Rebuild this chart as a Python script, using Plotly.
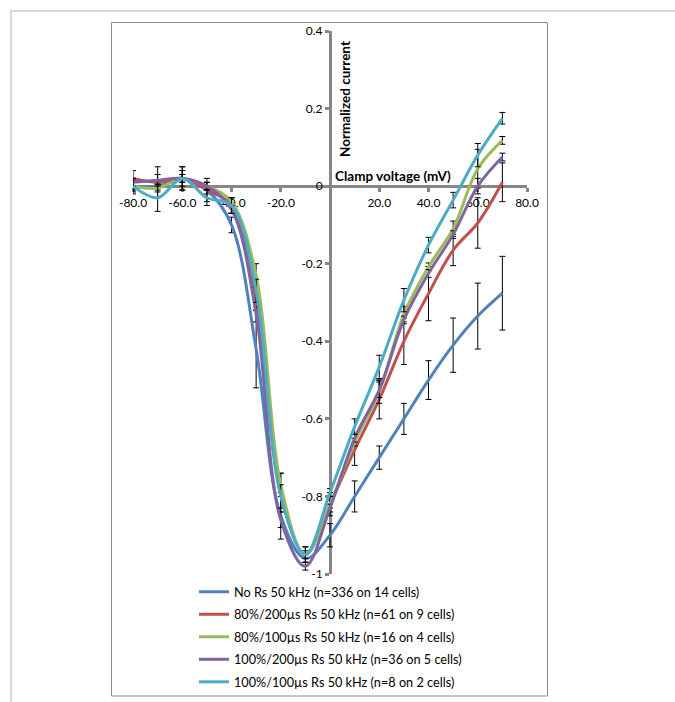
import plotly.graph_objects as go

voltage = [-80, -70, -60, -50, -40, -30, -20, -10, 0, 10, 20, 30, 40, 50, 60, 70]

series_names = [
    "No Rs 50 kHz (n=336 on 14 cells)",
    "80%/200µs Rs 50 kHz (n=61 on 9 cells)",
    "80%/100µs Rs 50 kHz (n=16 on 4 cells)",
    "100%/200µs Rs 50 kHz (n=36 on 5 cells)",
    "100%/100µs Rs 50 kHz (n=8 on 2 cells)",
]

no_rs =        [0.00, 0.00, 0.02, -0.01, -0.10, -0.42, -0.85, -0.96, -0.90, -0.80, -0.70, -0.60, -0.50, -0.41, -0.335, -0.276]
r80_200 =      [0.02, 0.01, 0.02, -0.01, -0.05, -0.29, -0.79, -0.95, -0.82, -0.68, -0.55, -0.40, -0.277, -0.165, -0.095, 0.01]
r80_100 =      [0.00, -0.005, 0.02, 0.00, -0.04, -0.23, -0.77, -0.95, -0.82, -0.66, -0.53, -0.33, -0.208, -0.11, 0.045, 0.118]
r100_200 =     [0.01, 0.015, 0.02, 0.00, -0.06, -0.33, -0.86, -0.98, -0.83, -0.65, -0.525, -0.345, -0.225, -0.125, 0.00, 0.075]
r100_100 =     [0.00, -0.03, 0.02, -0.03, -0.05, -0.27, -0.80, -0.95, -0.79, -0.62, -0.466, -0.294, -0.152, -0.036, 0.08, 0.175]

err_no_rs =    [0.015, 0.01, 0.01, 0.01, 0.02, 0.10, 0.06, 0.01, 0.03, 0.04, 0.03, 0.04, 0.05, 0.07, 0.085, 0.095]
err_r80_200 =  [0.02, 0.04, 0.03, 0.03, 0.02, 0.03, 0.05, 0.02, 0.03, 0.04, 0.05, 0.06, 0.07, 0.04, 0.065, 0.05]
err_r80_100 =  [0.01, 0.01, 0.01, 0.01, 0.01, 0.03, 0.03, 0.01, 0.01, 0.01, 0.03, 0.02, 0.01, 0.02, 0.05, 0.01]
err_r100_200 = [0.01, 0.015, 0.02, 0.01, 0.01, 0.02, 0.02, 0.01, 0.01, 0.01, 0.02, 0.01, 0.01, 0.01, 0.02, 0.01]
err_r100_100 = [0.02, 0.035, 0.03, 0.02, 0.02, 0.03, 0.03, 0.02, 0.01, 0.02, 0.03, 0.03, 0.02, 0.02, 0.03, 0.015]

colors = ["#4F81BD", "#C0504D", "#9BBB59", "#8064A2", "#4BACC6"]

x_tickvals = [-80, -60, -40, -20, 20, 40, 60, 80]
x_ticktext = ["-80.0", "-60.0", "-40.0", "-20.0", "20.0", "40.0", "60.0", "80.0"]
y_tickvals = [0.4, 0.2, 0, -0.2, -0.4, -0.6, -0.8, -1]
y_ticktext = ["0.4", "0.2", "0", "-0.2", "-0.4", "-0.6", "-0.8", "-1"]

x_title = "Clamp voltage (mV)"
y_title = "Normalized current"

X_MIN, X_MAX = -80, 80
Y_MIN, Y_MAX = -1, 0.4

W, H = 675, 702
ML, MR, MT, MB = 133, 148, 31, 128
PW = W - ML - MR
PH = H - MT - MB


def px_x(p):
    return (p - ML) / PW


def px_y(p):
    return (H - MB - p) / PH


FONT = "Lato, 'Liberation Sans', sans-serif"

fig = go.Figure()
all_y = [no_rs, r80_200, r80_100, r100_200, r100_100]
all_e = [err_no_rs, err_r80_200, err_r80_100, err_r100_200, err_r100_100]
for i, (name, ys, es, c) in enumerate(zip(series_names, all_y, all_e, colors)):
    fig.add_trace(go.Scatter(
        x=voltage, y=ys, name=name, mode="lines",
        line=dict(color=c, width=3, shape="spline", smoothing=1.0),
        error_y=dict(type="data", array=es, visible=True, color="black", thickness=1, width=3),
        legendgroup=f"g{i}",
    ))

axis_color = "#868686"
fig.update_layout(
    width=W, height=H, autosize=False,
    margin=dict(l=ML, r=MR, t=MT, b=MB, pad=0, autoexpand=False),
    paper_bgcolor="white", plot_bgcolor="white",
    font=dict(family=FONT, size=12, color="#404040"),
    showlegend=True,
    legend=dict(
        x=px_x(194), y=px_y(577), xanchor="left", yanchor="top",
        font=dict(family=FONT, size=12.7, color="black"),
        bgcolor="rgba(0,0,0,0)", tracegroupgap=3, itemwidth=30,
    ),
    xaxis=dict(
        range=[X_MIN, X_MAX], anchor="free", position=(0 - Y_MIN) / (Y_MAX - Y_MIN),
        showline=True, linecolor=axis_color, linewidth=3,
        ticks="outside", ticklen=4, tickwidth=3, tickcolor=axis_color,
        tickvals=x_tickvals, ticktext=x_ticktext,
        tickfont=dict(family=FONT, size=12, color="black"),
        showgrid=False, zeroline=False, layer="below traces", fixedrange=True,
    ),
    yaxis=dict(
        range=[Y_MIN, Y_MAX], anchor="free", position=(0 - X_MIN) / (X_MAX - X_MIN),
        showline=True, linecolor=axis_color, linewidth=3,
        ticks="outside", ticklen=4, tickwidth=3, tickcolor=axis_color,
        tickvals=y_tickvals, ticktext=y_ticktext,
        tickfont=dict(family=FONT, size=12, color="black"),
        showgrid=False, zeroline=False, layer="below traces", fixedrange=True,
    ),
)

fig.add_annotation(
    text=f"<b>{y_title}</b>", textangle=-90, xref="paper", yref="paper",
    x=px_x(345), y=px_y(99), xanchor="center", yanchor="middle", showarrow=False,
    font=dict(family=FONT, size=13.5, color="black"),
)
fig.add_annotation(
    text=f"<b>{x_title}</b>", xref="paper", yref="paper",
    x=px_x(392.5), y=px_y(176), xanchor="center", yanchor="middle", showarrow=False,
    font=dict(family=FONT, size=13.5, color="black"),
)

# inner chart border and outer frame
fig.add_shape(type="rect", xref="paper", yref="paper",
              x0=px_x(111.5), x1=px_x(547.5), y0=px_y(696), y1=px_y(22.5),
              line=dict(color="#8c8c8c", width=1), layer="below")
fig.add_shape(type="rect", xref="paper", yref="paper",
              x0=px_x(11), x1=px_x(690), y0=px_y(720), y1=px_y(11),
              line=dict(color="#d9d9d9", width=2), layer="below")

fig.write_html(
    "out.html",
    config={"displayModeBar": False},
    post_script="document.body.style.margin='0';document.body.style.overflow='hidden';",
)
